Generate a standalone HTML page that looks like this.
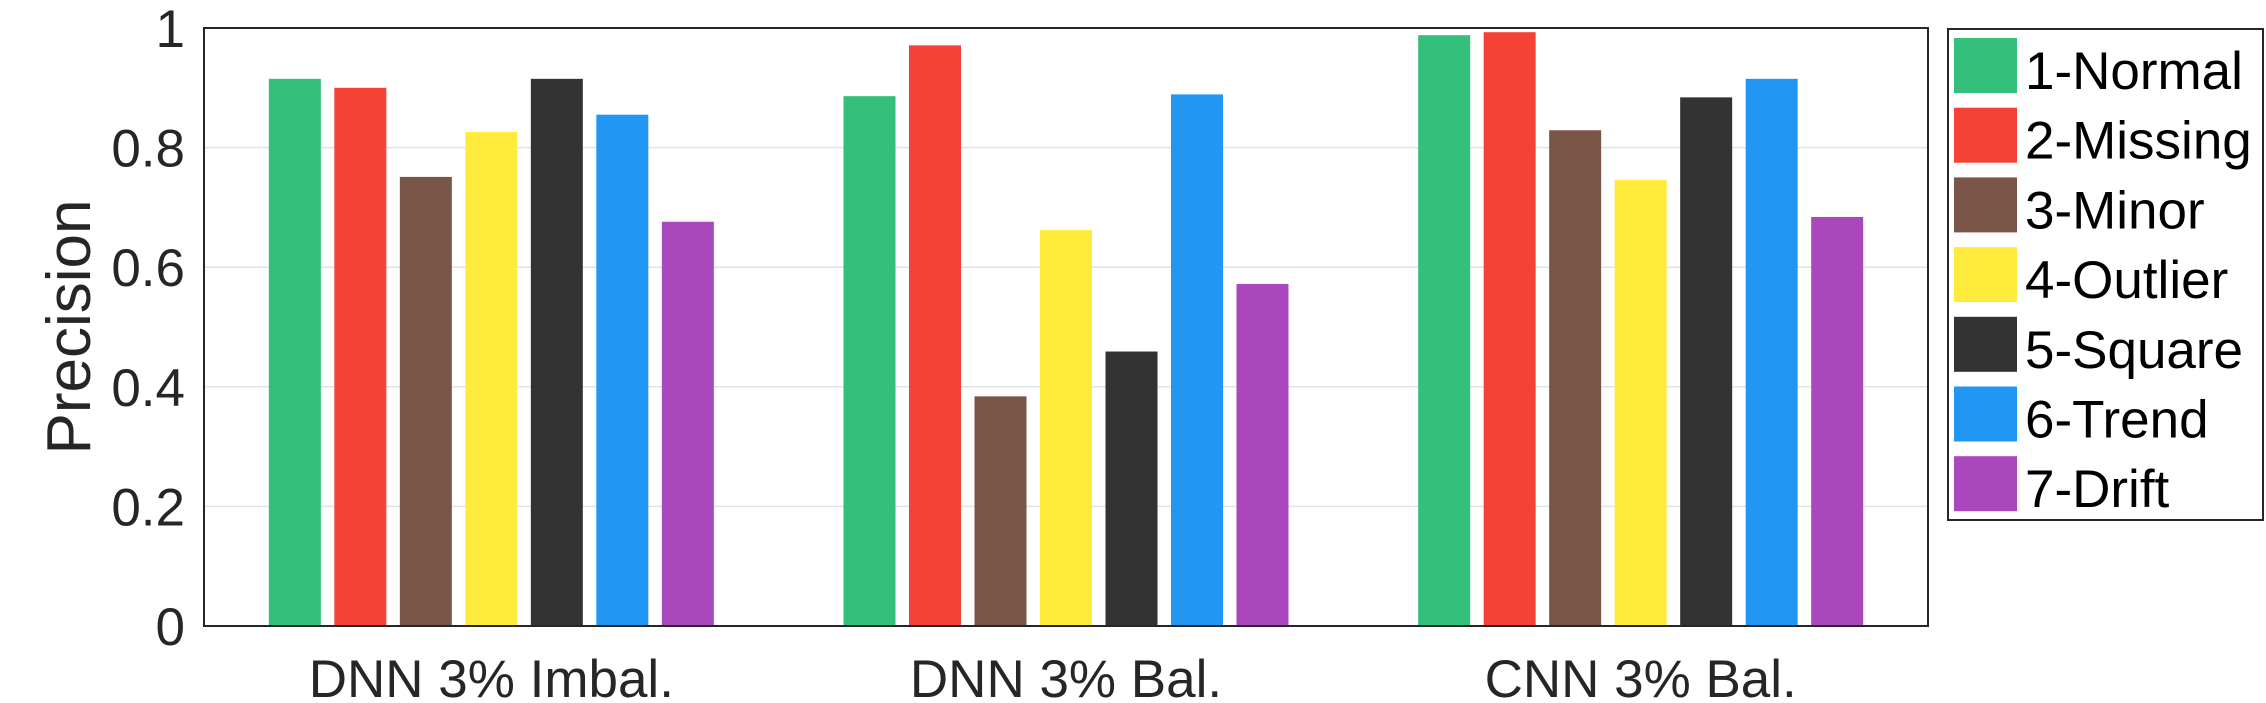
<!DOCTYPE html>
<html><head><meta charset="utf-8"><style>
html,body{margin:0;padding:0;background:#fff;}
svg{display:block;font-family:"Liberation Sans",Arial,sans-serif;}
</style></head><body>
<svg id="chart" width="2266" height="703" viewBox="0 0 2266 703" xmlns="http://www.w3.org/2000/svg">
<g id="grid"></g>
<g id="bars"></g>
<rect x="204" y="28" width="1724" height="598" fill="none" stroke="#262626" stroke-width="2"/>
<g id="yticks"></g>
<g id="xticks"></g>
<text x="0" y="0" transform="translate(90,327) rotate(-90)" text-anchor="middle" font-size="62" fill="#262626">Precision</text>
<g id="legend">
<rect x="1948" y="29" width="315" height="491" fill="#fff" stroke="#262626" stroke-width="2"/>
</g>
</svg>
<script>
const categories = ["DNN 3% Imbal.", "DNN 3% Bal.", "CNN 3% Bal."];
const seriesNames = ["1-Normal","2-Missing","3-Minor","4-Outlier","5-Square","6-Trend","7-Drift"];
const normalVals  = [0.915, 0.886, 0.988];
const missingVals = [0.900, 0.971, 0.993];
const minorVals   = [0.751, 0.384, 0.829];
const outlierVals = [0.826, 0.662, 0.746];
const squareVals  = [0.915, 0.459, 0.884];
const trendVals   = [0.855, 0.889, 0.915];
const driftVals   = [0.676, 0.572, 0.684];
const yTickLabels = ["0","0.2","0.4","0.6","0.8","1"];
const yTickValues = [0,0.2,0.4,0.6,0.8,1];

const series = [normalVals,missingVals,minorVals,outlierVals,squareVals,trendVals,driftVals];
const colors = ["#34BF7A","#F44336","#795548","#FFEB3B","#333333","#2196F3","#AB47BC"];
const NS="http://www.w3.org/2000/svg";
const L=204,R=1928,T=28,B=626;
const unit=(R-L)/categories.length;
function xScale(i){return L+unit*(i+0.5);}
function yScale(v){return B-(B-T)*v;}
const pitch=65.5, bw=52;
const grid=document.getElementById('grid');
yTickValues.forEach((v,k)=>{
  if(v>0&&v<1){
    const ln=document.createElementNS(NS,'line');
    
    
    ln.setAttribute('x1',L);ln.setAttribute('x2',R);
    ln.setAttribute('y1',yScale(v));ln.setAttribute('y2',yScale(v));
    ln.setAttribute('stroke','#e2e2e2');ln.setAttribute('stroke-width','1.5');
    grid.appendChild(ln);
  }
  const t=document.createElementNS(NS,'text');
  
  
  t.setAttribute('x',185);t.setAttribute('y',yScale(v)+19);
  t.setAttribute('text-anchor','end');t.setAttribute('font-size','53');t.setAttribute('fill','#262626');
  t.textContent=yTickLabels[k];
  document.getElementById('yticks').appendChild(t);
});
const barsG=document.getElementById('bars');
categories.forEach((c,i)=>{
  const cx=xScale(i);
  series.forEach((vals,s)=>{
    const r=document.createElementNS(NS,'rect');
    
    
    const x=cx+(s-3)*pitch-bw/2;
    r.setAttribute('x',x);r.setAttribute('width',bw);
    r.setAttribute('y',yScale(vals[i]));r.setAttribute('height',B-yScale(vals[i]));
    r.setAttribute('fill',colors[s]);
    barsG.appendChild(r);
  });
  const t=document.createElementNS(NS,'text');
  
  
  t.setAttribute('x',cx);t.setAttribute('y',697);
  t.setAttribute('text-anchor','middle');t.setAttribute('font-size','53');t.setAttribute('fill','#262626');
  t.textContent=c;
  document.getElementById('xticks').appendChild(t);
});
const lg=document.getElementById('legend');
seriesNames.forEach((n,s)=>{
  const y=38+s*69.7;
  const r=document.createElementNS(NS,'rect');
  
  
  r.setAttribute('x',1954);r.setAttribute('y',y);r.setAttribute('width',63);r.setAttribute('height',55);
  r.setAttribute('fill',colors[s]);
  lg.appendChild(r);
  const t=document.createElementNS(NS,'text');
  
  
  t.setAttribute('x',2025);t.setAttribute('y',y+51);
  t.setAttribute('font-size','53');t.setAttribute('fill','#000');
  t.textContent=n;
  lg.appendChild(t);
});
</script>
</body></html>
